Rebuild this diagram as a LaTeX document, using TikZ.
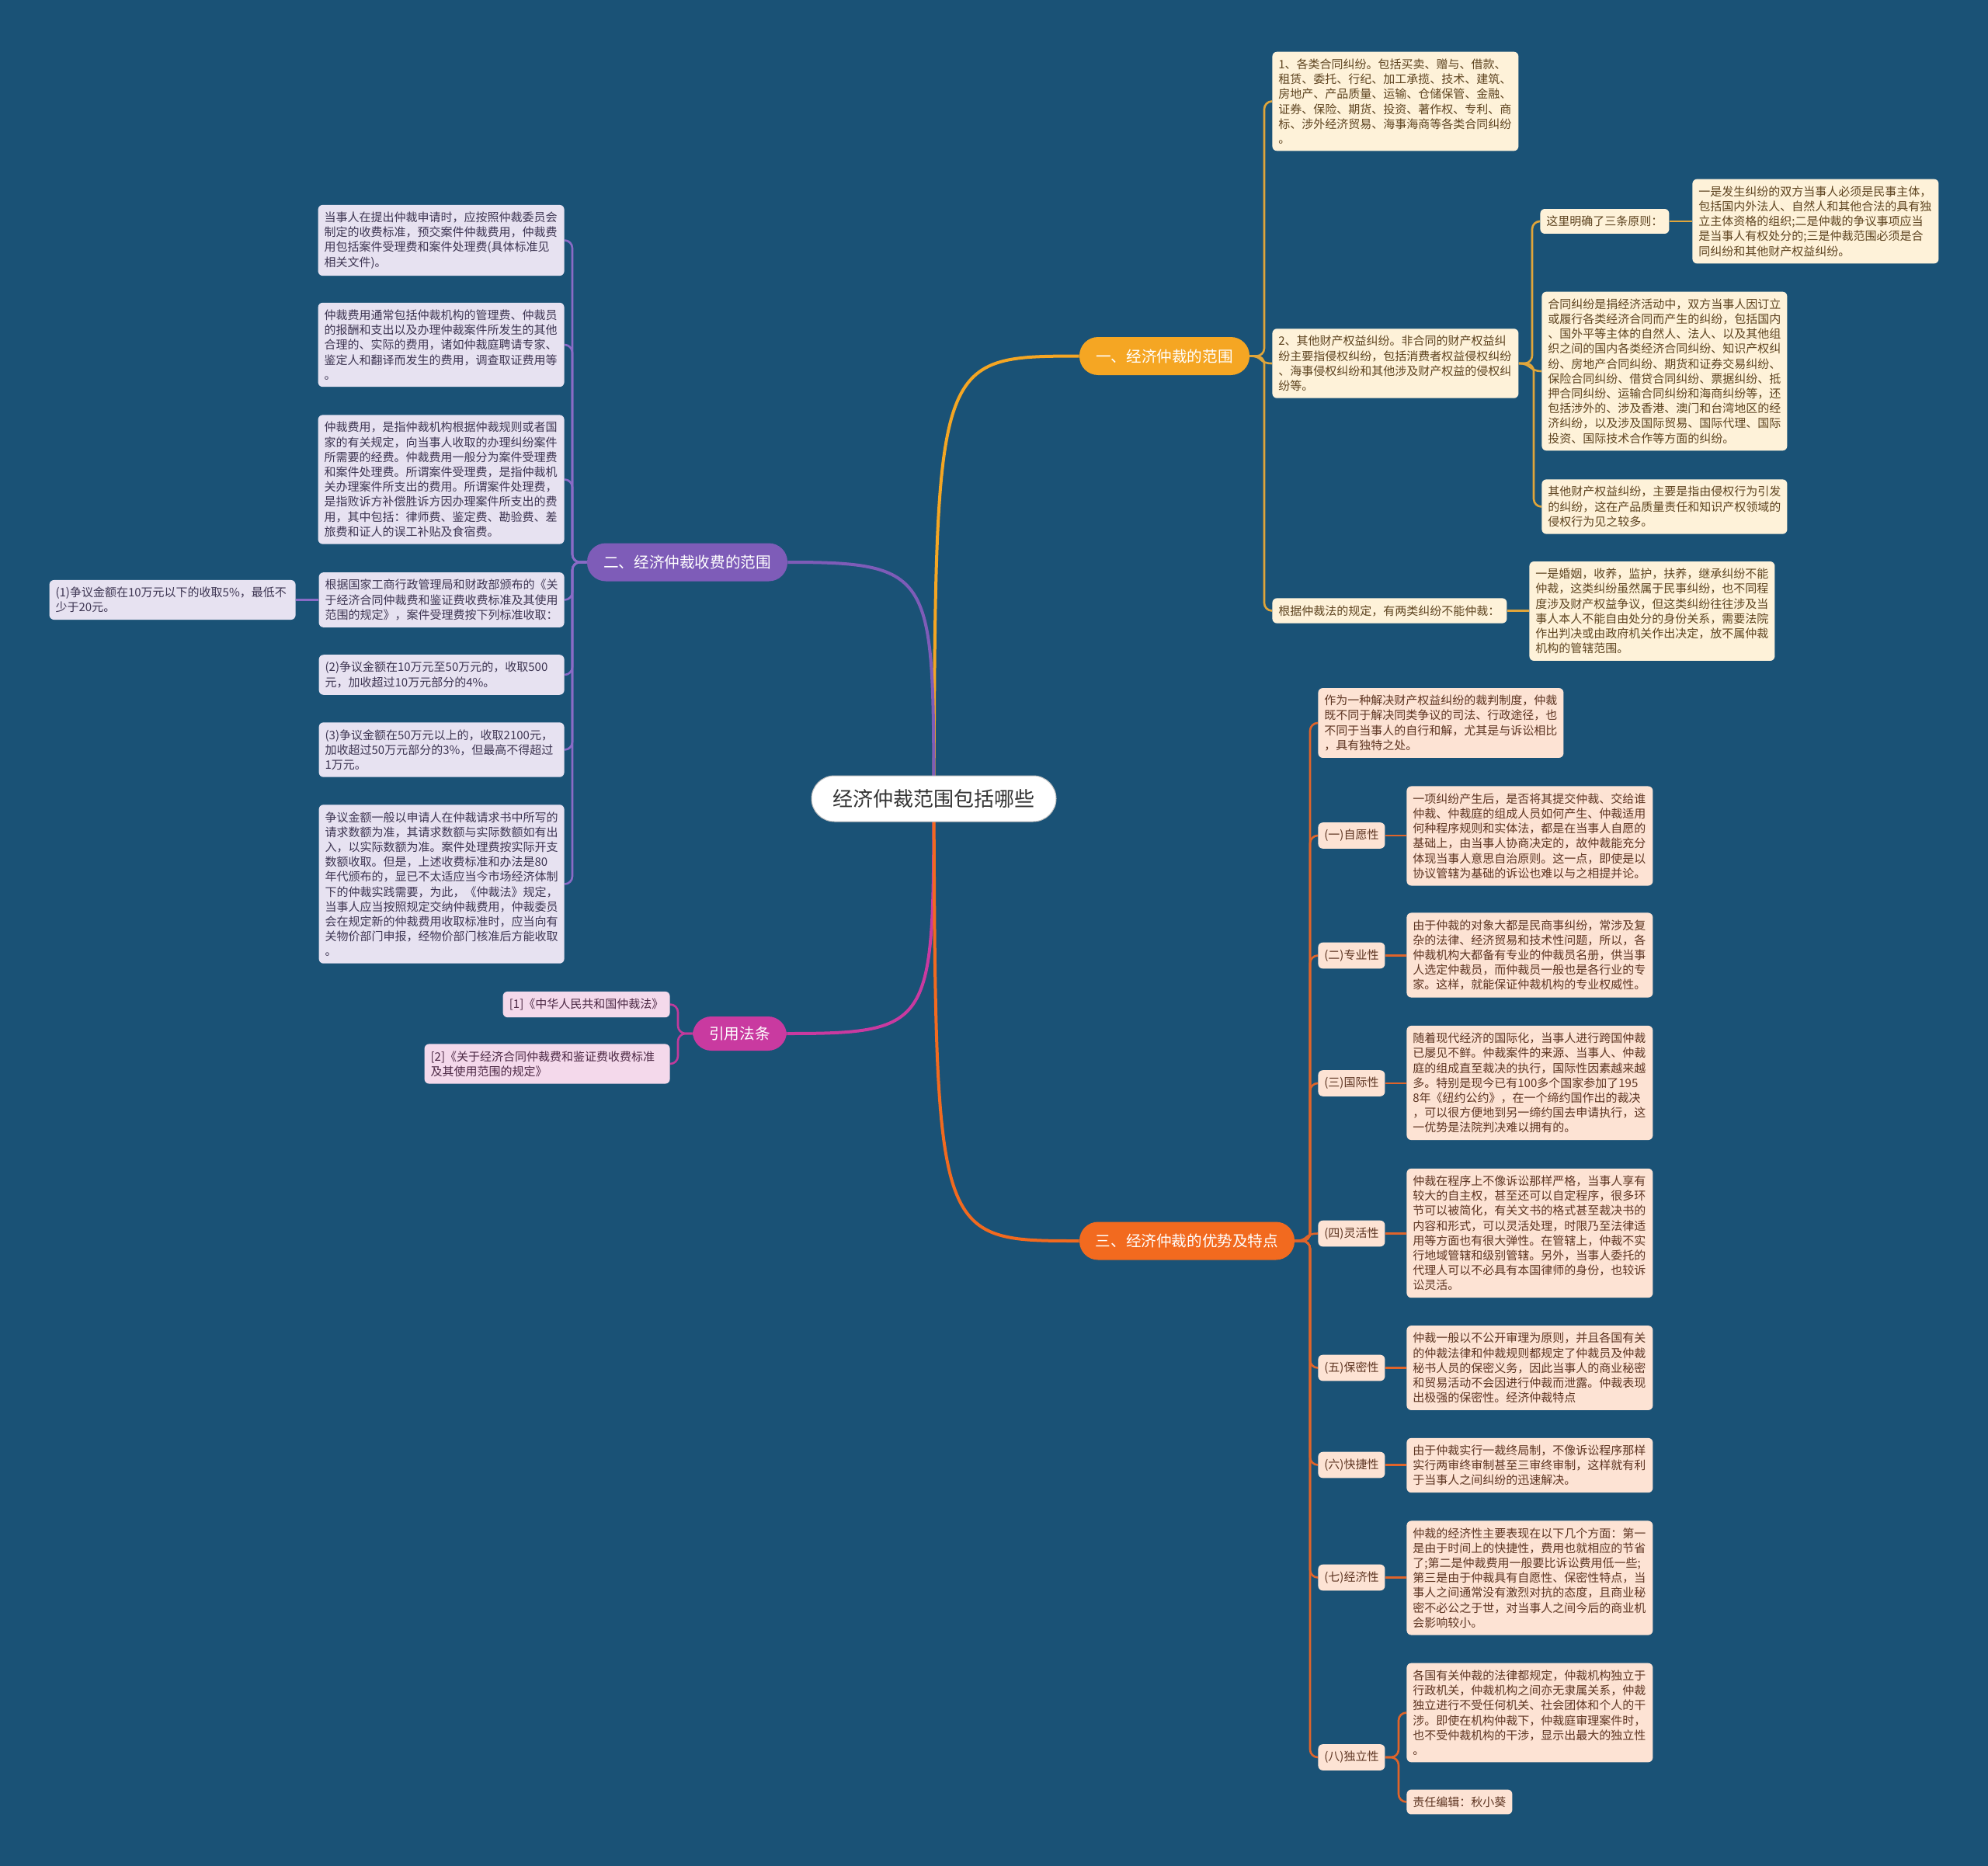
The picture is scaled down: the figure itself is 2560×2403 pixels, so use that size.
\documentclass[tikz,border=0pt]{standalone}
\usepackage{fontspec}
\setmainfont{Noto Sans CJK SC}
\usetikzlibrary{calc}
\pgfdeclarelayer{bg}
\pgfdeclarelayer{edges}
\pgfsetlayers{bg,edges,main}
\definecolor{bgblue}{HTML}{1A5276}
\definecolor{c1fill}{HTML}{FEF2D9}
\definecolor{c1text}{HTML}{5E4420}
\definecolor{c1line}{HTML}{E0A53A}
\definecolor{c1pill}{HTML}{F5A623}
\definecolor{c2fill}{HTML}{E7E2F1}
\definecolor{c2text}{HTML}{3D3552}
\definecolor{c2line}{HTML}{8A6BC6}
\definecolor{c2pill}{HTML}{7E5CB8}
\definecolor{c3fill}{HTML}{F4D9EB}
\definecolor{c3text}{HTML}{4C2844}
\definecolor{c3line}{HTML}{C13A9C}
\definecolor{c3pill}{HTML}{C93AA0}
\definecolor{c4fill}{HTML}{FDE3D4}
\definecolor{c4text}{HTML}{5E3522}
\definecolor{c4line}{HTML}{E0642A}
\definecolor{c4pill}{HTML}{F26A1F}
\begin{document}
\begin{tikzpicture}[x=0.5pt, y=-0.5pt,
  leaf/.style={rounded corners=3pt, inner xsep=4pt, inner ysep=4.5pt, align=left, font=\fontsize{7.5}{9.6}\selectfont},
  lone/.style={leaf, fill=c1fill, text=c1text},
  ltwo/.style={leaf, fill=c2fill, text=c2text},
  lthree/.style={leaf, fill=c3fill, text=c3text},
  lfour/.style={leaf, fill=c4fill, text=c4text},
  pill/.style={rounded corners=12pt, minimum height=24.5pt, inner sep=0pt, text=white, font=\fontsize{9.8}{11}\selectfont},
  rootbox/.style={fill=white, draw=gray!50, line width=0.5pt, rounded corners=14.75pt, minimum width=157.5pt, minimum height=29.5pt, inner sep=0pt, text=black!80, font=\fontsize{13}{15}\selectfont},
  eone/.style={draw=c1line, line width=1.3pt, rounded corners=5pt},
  etwo/.style={draw=c2line, line width=1.3pt, rounded corners=5pt},
  ethree/.style={draw=c3line, line width=1.3pt, rounded corners=5pt},
  efour/.style={draw=c4line, line width=1.3pt, rounded corners=5pt},
  rootedge/.style={line width=2pt}
]
\useasboundingbox (0,0) rectangle (2560,2403);
\begin{pgfonlayer}{bg}
\fill[bgblue] (0,0) rectangle (2560,2403);
\end{pgfonlayer}

% root and main branches
\node[rootbox] (root) at (1202.5,1028.5) {经济仲裁范围包括哪些};
\node[pill, fill=c1pill, minimum width=109.5pt] (b1) at (1499.5,458.5) {一、经济仲裁的范围};
\node[pill, fill=c2pill, minimum width=129pt] (b2) at (885,724) {二、经济仲裁收费的范围};
\node[pill, fill=c3pill, minimum width=60.5pt, minimum height=22pt] (b3) at (952.5,1331) {引用法条};
\node[pill, fill=c4pill, minimum width=138.5pt] (b4) at (1528.5,1598) {三、经济仲裁的优势及特点};

% branch 1
\node[lone, anchor=west, text width=150.5pt] (n1a) at (1638,130.5) {1、各类合同纠纷。包括买卖、赠与、借款、\\租赁、委托、行纪、加工承揽、技术、建筑、\\房地产、产品质量、运输、仓储保管、金融、\\证券、保险、期货、投资、著作权、专利、商\\标、涉外经济贸易、海事海商等各类合同纠纷\\。};
\node[lone, anchor=west, text width=150.5pt] (n1b) at (1638,468) {2、其他财产权益纠纷。非合同的财产权益纠\\纷主要指侵权纠纷，包括消费者权益侵权纠纷\\、海事侵权纠纷和其他涉及财产权益的侵权纠\\纷等。};
\node[lone, anchor=west, text width=143pt] (n1c) at (1638,786.5) {根据仲裁法的规定，有两类纠纷不能仲裁：};
\node[lone, anchor=west, text width=75pt] (n1b1) at (1983,285) {这里明确了三条原则：};
\node[lone, anchor=west, text width=150.5pt] (n1b1a) at (2179,285) {一是发生纠纷的双方当事人必须是民事主体，\\包括国内外法人、自然人和其他合法的具有独\\立主体资格的组织;二是仲裁的争议事项应当\\是当事人有权处分的;三是仲裁范围必须是合\\同纠纷和其他财产权益纠纷。};
\node[lone, anchor=west, text width=150pt] (n1b2) at (1985,478) {合同纠纷是捐经济活动中，双方当事人因订立\\或履行各类经济合同而产生的纠纷，包括国内\\、国外平等主体的自然人、法人、以及其他组\\织之间的国内各类经济合同纠纷、知识产权纠\\纷、房地产合同纠纷、期货和证券交易纠纷、\\保险合同纠纷、借贷合同纠纷、票据纠纷、抵\\押合同纠纷、运输合同纠纷和海商纠纷等，还\\包括涉外的、涉及香港、澳门和台湾地区的经\\济纠纷，以及涉及国际贸易、国际代理、国际\\投资、国际技术合作等方面的纠纷。};
\node[lone, anchor=west, text width=150pt] (n1b3) at (1985,652.5) {其他财产权益纠纷，主要是指由侵权行为引发\\的纠纷，这在产品质量责任和知识产权领域的\\侵权行为见之较多。};
\node[lone, anchor=west, text width=150pt] (n1c1) at (1969,787) {一是婚姻，收养，监护，扶养，继承纠纷不能\\仲裁，这类纠纷虽然属于民事纠纷，也不同程\\度涉及财产权益争议，但这类纠纷往往涉及当\\事人本人不能自由处分的身份关系，需要法院\\作出判决或由政府机关作出决定，放不属仲裁\\机构的管辖范围。};

% branch 2
\node[ltwo, anchor=east, text width=150.5pt] (p1) at (727,309.5) {当事人在提出仲裁申请时，应按照仲裁委员会\\制定的收费标准，预交案件仲裁费用，仲裁费\\用包括案件受理费和案件处理费(具体标准见\\相关文件)。};
\node[ltwo, anchor=east, text width=150.5pt] (p2) at (727,444) {仲裁费用通常包括仲裁机构的管理费、仲裁员\\的报酬和支出以及办理仲裁案件所发生的其他\\合理的、实际的费用，诸如仲裁庭聘请专家、\\鉴定人和翻译而发生的费用，调查取证费用等\\。};
\node[ltwo, anchor=east, text width=150.5pt] (p3) at (727,617.5) {仲裁费用，是指仲裁机构根据仲裁规则或者国\\家的有关规定，向当事人收取的办理纠纷案件\\所需要的经费。仲裁费用一般分为案件受理费\\和案件处理费。所谓案件受理费，是指仲裁机\\关办理案件所支出的费用。所谓案件处理费，\\是指败诉方补偿胜诉方因办理案件所支出的费\\用，其中包括：律师费、鉴定费、勘验费、差\\旅费和证人的误工补贴及食宿费。};
\node[ltwo, anchor=east, text width=150pt] (p4) at (727,772.5) {根据国家工商行政管理局和财政部颁布的《关\\于经济合同仲裁费和鉴证费收费标准及其使用\\范围的规定》，案件受理费按下列标准收取：};
\node[ltwo, anchor=east, text width=150.5pt] (q1) at (381,772.5) {(1)争议金额在10万元以下的收取5\%，最低不\\少于20元。};
\node[ltwo, anchor=east, text width=150pt] (p5) at (727,869) {(2)争议金额在10万元至50万元的，收取500\\元，加收超过10万元部分的4\%。};
\node[ltwo, anchor=east, text width=150pt] (p6) at (727,965.5) {(3)争议金额在50万元以上的，收取2100元，\\加收超过50万元部分的3\%，但最高不得超过\\1万元。};
\node[ltwo, anchor=east, text width=150pt] (p7) at (727,1138.5) {争议金额一般以申请人在仲裁请求书中所写的\\请求数额为准，其请求数额与实际数额如有出\\入，以实际数额为准。案件处理费按实际开支\\数额收取。但是，上述收费标准和办法是80\\年代颁布的，显已不太适应当今市场经济体制\\下的仲裁实践需要，为此，《仲裁法》规定，\\当事人应当按照规定交纳仲裁费用，仲裁委员\\会在规定新的仲裁费用收取标准时，应当向有\\关物价部门申报，经物价部门核准后方能收取\\。};

% branch 3
\node[lthree, anchor=east, text width=99.5pt, align=center] (r1) at (863,1293.5) {[1]《中华人民共和国仲裁法》};
\node[lthree, anchor=east, text width=150pt] (r2) at (863,1370) {[2]《关于经济合同仲裁费和鉴证费收费标准\\及其使用范围的规定》};

% branch 4
\node[lfour, anchor=west, text width=150pt] (s0) at (1697,931) {作为一种解决财产权益纠纷的裁判制度，仲裁\\既不同于解决同类争议的司法、行政途径，也\\不同于当事人的自行和解，尤其是与诉讼相比\\，具有独特之处。};
\node[lfour, anchor=west, text width=35pt] (s1) at (1697,1076) {(一)自愿性};
\node[lfour, anchor=west, text width=35pt] (s2) at (1697,1230.5) {(二)专业性};
\node[lfour, anchor=west, text width=35pt] (s3) at (1697,1395) {(三)国际性};
\node[lfour, anchor=west, text width=35pt] (s4) at (1697,1588.5) {(四)灵活性};
\node[lfour, anchor=west, text width=35pt] (s5) at (1697,1761.5) {(五)保密性};
\node[lfour, anchor=west, text width=35pt] (s6) at (1697,1886.5) {(六)快捷性};
\node[lfour, anchor=west, text width=35pt] (s7) at (1697,2031.5) {(七)经济性};
\node[lfour, anchor=west, text width=35pt] (s8) at (1697,2263) {(八)独立性};
\node[lfour, anchor=west, text width=150.5pt] (s1a) at (1811,1076.5) {一项纠纷产生后，是否将其提交仲裁、交给谁\\仲裁、仲裁庭的组成人员如何产生、仲裁适用\\何种程序规则和实体法，都是在当事人自愿的\\基础上，由当事人协商决定的，故仲裁能充分\\体现当事人意思自治原则。这一点，即使是以\\协议管辖为基础的诉讼也难以与之相提并论。};
\node[lfour, anchor=west, text width=150.5pt] (s2a) at (1811,1230) {由于仲裁的对象大都是民商事纠纷，常涉及复\\杂的法律、经济贸易和技术性问题，所以，各\\仲裁机构大都备有专业的仲裁员名册，供当事\\人选定仲裁员，而仲裁员一般也是各行业的专\\家。这样，就能保证仲裁机构的专业权威性。};
\node[lfour, anchor=west, text width=150.5pt] (s3a) at (1811,1394.5) {随着现代经济的国际化，当事人进行跨国仲裁\\已屡见不鲜。仲裁案件的来源、当事人、仲裁\\庭的组成直至裁决的执行，国际性因素越来越\\多。特别是现今已有100多个国家参加了195\\8年《纽约公约》，在一个缔约国作出的裁决\\，可以很方便地到另一缔约国去申请执行，这\\一优势是法院判决难以拥有的。};
\node[lfour, anchor=west, text width=150.5pt] (s4a) at (1811,1588) {仲裁在程序上不像诉讼那样严格，当事人享有\\较大的自主权，甚至还可以自定程序，很多环\\节可以被简化，有关文书的格式甚至裁决书的\\内容和形式，可以灵活处理，时限乃至法律适\\用等方面也有很大弹性。在管辖上，仲裁不实\\行地域管辖和级别管辖。另外，当事人委托的\\代理人可以不必具有本国律师的身份，也较诉\\讼灵活。};
\node[lfour, anchor=west, text width=150.5pt] (s5a) at (1811,1761.5) {仲裁一般以不公开审理为原则，并且各国有关\\的仲裁法律和仲裁规则都规定了仲裁员及仲裁\\秘书人员的保密义务，因此当事人的商业秘密\\和贸易活动不会因进行仲裁而泄露。仲裁表现\\出极强的保密性。经济仲裁特点};
\node[lfour, anchor=west, text width=150.5pt] (s6a) at (1811,1887) {由于仲裁实行一裁终局制，不像诉讼程序那样\\实行两审终审制甚至三审终审制，这样就有利\\于当事人之间纠纷的迅速解决。};
\node[lfour, anchor=west, text width=150.5pt] (s7a) at (1811,2032) {仲裁的经济性主要表现在以下几个方面：第一\\是由于时间上的快捷性，费用也就相应的节省\\了;第二是仲裁费用一般要比诉讼费用低一些;\\第三是由于仲裁具有自愿性、保密性特点，当\\事人之间通常没有激烈对抗的态度，且商业秘\\密不必公之于世，对当事人之间今后的商业机\\会影响较小。};
\node[lfour, anchor=west, text width=150.5pt] (s8a) at (1811,2205.5) {各国有关仲裁的法律都规定，仲裁机构独立于\\行政机关，仲裁机构之间亦无隶属关系，仲裁\\独立进行不受任何机关、社会团体和个人的干\\涉。即使在机构仲裁下，仲裁庭审理案件时，\\也不受仲裁机构的干涉，显示出最大的独立性\\。};
\node[lfour, anchor=west, text width=60pt] (s8b) at (1811,2320.5) {责任编辑：秋小葵};

\begin{pgfonlayer}{edges}
% root edges
\draw[rootedge, c1pill] (root.center) .. controls (1205,459) and (1205,459) .. (b1.west);
\draw[rootedge, c2pill] (root.center) .. controls (1202,740) and (1202,724) .. (b2.east);
\draw[rootedge, c3pill] (root.center) .. controls (1202,1320) and (1202,1331) .. (b3.east);
\draw[rootedge, c4pill] (root.center) .. controls (1205,1598) and (1205,1598) .. (b4.west);

% branch 1 edges
\draw[eone] (b1.east) -| ($(n1a.west)+(-5pt,0)$) -- (n1a.west);
\draw[eone, rounded corners=0pt] (b1.east) .. controls ($(b1.east)+(9pt,0)$) and ($(n1b.west)+(-9pt,0)$) .. (n1b.west);
\draw[eone] (b1.east) -| ($(n1c.west)+(-5pt,0)$) -- (n1c.west);
\draw[eone] (n1b.east) -| ($(n1b1.west)+(-5pt,0)$) -- (n1b1.west);
\draw[eone, rounded corners=0pt] (n1b.east) .. controls ($(n1b.east)+(8pt,0)$) and ($(n1b2.west)+(-8pt,0)$) .. (n1b2.west);
\draw[eone] (n1b.east) -| ($(n1b3.west)+(-5pt,0)$) -- (n1b3.west);
\draw[eone] (n1b1.east) -- (n1b1.east -| n1b1a.west);
\draw[eone] (n1c.east) -- (n1c.east -| n1c1.west);

% branch 2 edges
\foreach \c in {p1,p2,p3,p4,p5,p6,p7}{
  \draw[etwo] (b2.west) -| ($(\c.east)+(5pt,0)$) -- (\c.east);
}
\draw[etwo] (p4.west) -- (p4.west -| q1.east);

% branch 3 edges
\draw[ethree] (b3.west) -| ($(r1.east)+(5pt,0)$) -- (r1.east);
\draw[ethree] (b3.west) -| ($(r2.east)+(5pt,0)$) -- (r2.east);

% branch 4 edges
\foreach \c in {s0,s1,s2,s3,s5,s6,s7,s8}{
  \draw[efour] (b4.east) -| ($(\c.west)+(-5pt,0)$) -- (\c.west);
}
\draw[efour, rounded corners=0pt] (b4.east) .. controls ($(b4.east)+(9pt,0)$) and ($(s4.west)+(-9pt,0)$) .. (s4.west);
\foreach \a/\b in {s1/s1a,s2/s2a,s3/s3a,s4/s4a,s5/s5a,s6/s6a,s7/s7a}{
  \draw[efour] (\a.east) -- (\a.east -| \b.west);
}
\draw[efour] (s8.east) -| ($(s8a.west)+(-5pt,0)$) -- (s8a.west);
\draw[efour] (s8.east) -| ($(s8b.west)+(-5pt,0)$) -- (s8b.west);
\end{pgfonlayer}
\end{tikzpicture}
\end{document}
